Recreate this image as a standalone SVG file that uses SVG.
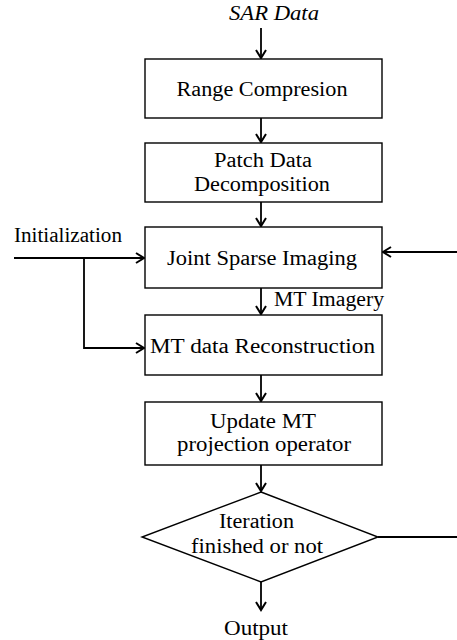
<svg xmlns="http://www.w3.org/2000/svg" width="457" height="640" viewBox="0 0 457 640">
<style>
.box{fill:#fff;stroke:#000;stroke-width:1.4}
.t{font-family:"Liberation Serif","Times New Roman",serif;font-size:20px;fill:#000}
.c{text-anchor:middle}
.ln{fill:none;stroke:#000;stroke-width:1.8}
</style>
<defs>
<marker id="ah" markerWidth="12" markerHeight="12" viewBox="0 0 12 12" refX="10" refY="6" orient="auto" markerUnits="userSpaceOnUse">
<path d="M2,1 L10,6 L2,11" fill="none" stroke="#000" stroke-width="2"/>
</marker>
</defs>
<g id="connectors">
<line class="ln" x1="261" y1="28" x2="261" y2="58" marker-end="url(#ah)"/>
<line class="ln" x1="261" y1="118" x2="261" y2="142" marker-end="url(#ah)"/>
<line class="ln" x1="261" y1="202" x2="261" y2="226" marker-end="url(#ah)"/>
<line class="ln" x1="261" y1="288" x2="261" y2="314" marker-end="url(#ah)"/>
<line class="ln" x1="261" y1="375" x2="261" y2="401" marker-end="url(#ah)"/>
<line class="ln" x1="261" y1="465" x2="261" y2="491" marker-end="url(#ah)"/>
<line class="ln" x1="261" y1="582" x2="261" y2="610" marker-end="url(#ah)"/>
<line class="ln" x1="14" y1="258" x2="144" y2="258" marker-end="url(#ah)"/>
<polyline class="ln" points="84,258 84,348 144,348" marker-end="url(#ah)"/>
<line class="ln" x1="457" y1="252" x2="383" y2="252" marker-end="url(#ah)"/>
<line class="ln" x1="378" y1="537" x2="457" y2="537"/>
<text class="t" x="274" y="306" textLength="110" lengthAdjust="spacingAndGlyphs">MT Imagery</text>
</g>
<g id="sar-data"><text class="t c" x="274" y="20" font-style="italic" textLength="90" lengthAdjust="spacingAndGlyphs">SAR Data</text></g>
<g id="initialization"><text class="t" x="14" y="242" textLength="108" lengthAdjust="spacingAndGlyphs">Initialization</text></g>
<g id="range-compression">
<rect class="box" x="145" y="59" width="237" height="59"/>
<text class="t c" x="262" y="96" textLength="171" lengthAdjust="spacingAndGlyphs">Range Compresion</text>
</g>
<g id="patch-data">
<rect class="box" x="145" y="143" width="237" height="59"/>
<text class="t c" x="263" y="167" textLength="98" lengthAdjust="spacingAndGlyphs">Patch Data</text>
<text class="t c" x="262" y="191" textLength="136" lengthAdjust="spacingAndGlyphs">Decomposition</text>
</g>
<g id="joint-sparse">
<rect class="box" x="145" y="227" width="237" height="61"/>
<text class="t c" x="262" y="265" textLength="190" lengthAdjust="spacingAndGlyphs">Joint Sparse Imaging</text>
</g>
<g id="mt-data">
<rect class="box" x="145" y="315" width="237" height="60"/>
<text class="t c" x="262.5" y="353" textLength="225" lengthAdjust="spacingAndGlyphs">MT data Reconstruction</text>
</g>
<g id="update-mt">
<rect class="box" x="145" y="402" width="237" height="63"/>
<text class="t c" x="263" y="428" textLength="106" lengthAdjust="spacingAndGlyphs">Update MT</text>
<text class="t c" x="264" y="451" textLength="174" lengthAdjust="spacingAndGlyphs">projection operator</text>
</g>
<g id="iteration">
<polygon class="box" points="261,492 378,537 261,582 142,537"/>
<text class="t c" x="256.5" y="528" textLength="75" lengthAdjust="spacingAndGlyphs">Iteration</text>
<text class="t c" x="257" y="553" textLength="132" lengthAdjust="spacingAndGlyphs">finished or not</text>
</g>
<g id="output"><text class="t c" x="256" y="635" textLength="64" lengthAdjust="spacingAndGlyphs">Output</text></g>
</svg>
